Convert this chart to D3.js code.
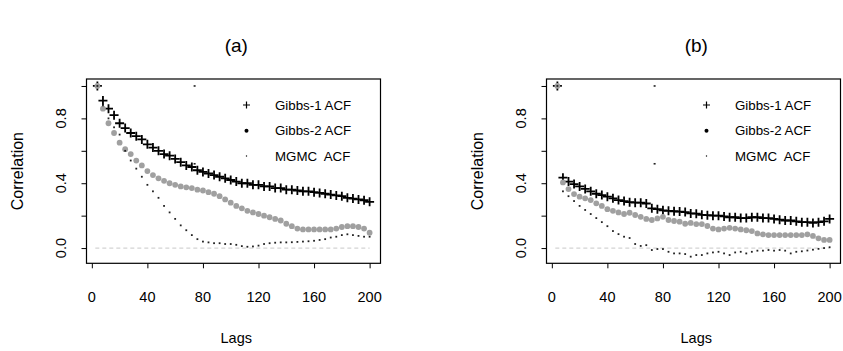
<!DOCTYPE html>
<html>
<head>
<meta charset="utf-8">
<script src="https://cdn.jsdelivr.net/npm/d3@7"></script>
<style>
html,body{margin:0;padding:0;background:#fff;}
svg{display:block;font-family:"Liberation Sans",Arial,sans-serif;}
</style>
</head>
<body>
<svg id="chart" width="843" height="351"></svg>
<script>
// ---- data ----
const lags = d3.range(4, 201, 4); // 4, 8, ..., 200
const xTicks = [0, 40, 80, 120, 160, 200];
const yTicks = [0, 0.2, 0.4, 0.6, 0.8, 1.0];
const yLabels = ["0.0", "", "0.4", "", "0.8", ""];
const panelTitles = ["(a)", "(b)"];
const legendLabels = ["Gibbs-1 ACF", "Gibbs-2 ACF", "MGMC  ACF"];

const gibbs1A = [1.0,0.91,0.86,0.82,0.77,0.74,0.71,0.69,0.67,0.64,0.62,0.60,0.58,0.57,0.55,0.53,0.51,0.50,0.48,0.47,
  0.46,0.45,0.44,0.43,0.42,0.41,0.40,0.40,0.39,0.39,0.38,0.38,0.37,0.37,0.36,0.36,0.355,0.35,0.35,0.345,
  0.34,0.335,0.33,0.325,0.32,0.31,0.305,0.30,0.295,0.285];
const gibbs2A = [1.0,0.86,0.77,0.71,0.65,0.61,0.58,0.54,0.51,0.475,0.45,0.43,0.415,0.40,0.39,0.38,0.375,0.37,0.36,0.355,
  0.345,0.335,0.32,0.30,0.28,0.26,0.245,0.23,0.22,0.21,0.20,0.19,0.18,0.17,0.15,0.135,0.12,0.115,0.115,0.115,
  0.115,0.115,0.115,0.12,0.13,0.135,0.135,0.13,0.12,0.095];
const mgmcA = [1.0,0.88,0.80,0.745,0.70,0.60,0.54,0.49,0.44,0.39,0.35,0.31,0.26,0.22,0.18,0.14,0.11,0.08,0.055,0.04,
  0.035,0.03,0.03,0.025,0.025,0.02,0.012,0.008,0.01,0.015,0.025,0.03,0.033,0.035,0.035,0.036,0.038,0.04,0.042,0.045,
  0.05,0.055,0.065,0.07,0.08,0.085,0.08,0.075,0.07,0.07];

const gibbs1B = [1.0,0.434,0.41,0.395,0.38,0.365,0.35,0.335,0.327,0.317,0.307,0.296,0.29,0.283,0.28,0.28,0.275,0.245,0.24,0.233,
  0.23,0.227,0.225,0.222,0.214,0.212,0.205,0.203,0.20,0.20,0.195,0.19,0.19,0.185,0.185,0.19,0.19,0.185,0.185,0.18,
  0.175,0.17,0.17,0.165,0.16,0.16,0.155,0.16,0.165,0.18];
const gibbs2B = [1.0,0.405,0.364,0.333,0.317,0.307,0.296,0.276,0.26,0.24,0.23,0.22,0.21,0.218,0.204,0.193,0.18,0.173,0.183,0.193,
  0.173,0.167,0.163,0.15,0.155,0.148,0.148,0.136,0.12,0.115,0.12,0.125,0.12,0.115,0.11,0.105,0.09,0.085,0.08,0.08,
  0.08,0.08,0.08,0.08,0.08,0.085,0.075,0.06,0.05,0.05];
const mgmcB = [1.0,0.35,0.32,0.29,0.26,0.235,0.21,0.185,0.16,0.135,0.105,0.086,0.07,0.062,0.025,0.013,0.018,-0.012,-0.006,-0.006,
  -0.023,-0.033,-0.033,-0.037,-0.053,-0.043,-0.043,-0.033,-0.027,-0.023,-0.033,-0.043,-0.027,-0.023,-0.033,-0.023,-0.016,-0.016,-0.012,-0.016,
  -0.012,-0.016,-0.033,-0.023,-0.02,-0.015,-0.01,-0.005,0.0,0.005];

const strayLags = [74, 74];
const strayVals = [1.0, 0.52];

const panels = [
  {g1: gibbs1A, g2: gibbs2A, m: mgmcA},
  {g1: gibbs1B, g2: gibbs2B, m: mgmcB}
];

// ---- layout ----
const svg = d3.select("#chart");
const boxTop = 79, boxBottom = 263.3, boxW = 294;
const panelLeft = [86.5, 546.5];
const y = d3.scaleLinear().domain([-0.094, 1.043]).range([boxBottom, boxTop]);
const grayCol = "#a0a0a0";

panels.forEach((p, i) => {
  const L = panelLeft[i];
  const x = d3.scaleLinear().domain([-3.84, 207.84]).range([L, L + boxW]);
  const g = svg.append("g");

  // zero reference line
  g.append("line")
    .attr("x1", x(2.5)).attr("x2", x(200)).attr("y1", y(0)).attr("y2", y(0))
    .attr("stroke", "#d4d4d4").attr("stroke-width", 1.2).attr("stroke-dasharray", "4,3");

  // axes
  const xAxis = d3.axisBottom(x).tickValues(xTicks).tickSize(5).tickFormat("");
  const gx = g.append("g").attr("transform", `translate(0,${boxBottom})`).call(xAxis);
  gx.select(".domain").remove();
  gx.selectAll("line").attr("stroke", "#000");
  g.selectAll(".xlab").data(xTicks).enter().append("text")
    .attr("x", d => x(d)).attr("y", 302).attr("text-anchor", "middle")
    .attr("font-size", 14.5).text(d => d);

  const yAxis = d3.axisLeft(y).tickValues(yTicks).tickSize(5).tickFormat("");
  const gy = g.append("g").attr("transform", `translate(${L},0)`).call(yAxis);
  gy.select(".domain").remove();
  gy.selectAll("line").attr("stroke", "#000");
  g.selectAll(".ylab").data(yTicks).enter().append("text")
    .attr("transform", d => `translate(${L - 26},${y(d)}) rotate(-90)`)
    .attr("text-anchor", "middle").attr("dy", "0.35em")
    .attr("font-size", 14.5).text((d, k) => yLabels[k]);

  // box
  g.append("rect").attr("x", L).attr("y", boxTop)
    .attr("width", boxW).attr("height", boxBottom - boxTop)
    .attr("fill", "none").attr("stroke", "#000").attr("stroke-width", 1.2);

  // titles
  g.append("text").attr("x", x(104)).attr("y", 52).attr("text-anchor", "middle")
    .attr("font-size", 19).text(panelTitles[i]);
  g.append("text").attr("x", x(104)).attr("y", 343).attr("text-anchor", "middle")
    .attr("font-size", 14.5).text("Lags");
  g.append("text").attr("transform", `translate(${L - 69},${(boxTop + boxBottom) / 2}) rotate(-90)`)
    .attr("text-anchor", "middle").attr("dy", "0.35em")
    .attr("font-size", 16).text("Correlation");

  // Gibbs-1 pluses
  const s = 4.5;
  g.selectAll(".plus").data(lags.map((l, k) => [l, p.g1[k]])).enter().append("path")
    .attr("d", d => `M${x(d[0]) - s},${y(d[1])}h${2 * s}M${x(d[0])},${y(d[1]) - s}v${2 * s}`)
    .attr("stroke", "#000").attr("stroke-width", 1.8).attr("fill", "none");

  // Gibbs-2 gray circles
  g.selectAll(".circ").data(lags.map((l, k) => [l, p.g2[k]])).enter().append("circle")
    .attr("cx", d => x(d[0])).attr("cy", d => y(d[1])).attr("r", 2.9)
    .attr("fill", grayCol);

  // MGMC small dots
  g.selectAll(".dot").data(lags.map((l, k) => [l, p.m[k]])).enter().append("rect")
    .attr("x", d => x(d[0]) - 0.9).attr("y", d => y(d[1]) - 0.9)
    .attr("width", 1.8).attr("height", 1.8).attr("fill", "#222");
  g.selectAll(".stray").data(strayLags.map((l, k) => [l, strayVals[k]])).enter().append("rect")
    .attr("x", d => x(d[0]) - 1).attr("y", d => y(d[1]) - 0.8)
    .attr("width", 2).attr("height", 1.6).attr("fill", "#222");

  // legend
  const lx = L + 160, tx = L + 188.5;
  const ly = [105, 130.7, 156];
  g.append("path")
    .attr("d", `M${lx - 3.5},${ly[0]}h7M${lx},${ly[0] - 3.5}v7`)
    .attr("stroke", "#000").attr("stroke-width", 1.2);
  g.append("circle").attr("cx", lx).attr("cy", ly[1]).attr("r", 2).attr("fill", "#000");
  g.append("rect").attr("x", lx - 0.6).attr("y", ly[2] - 0.6).attr("width", 1.2).attr("height", 1.2).attr("fill", "#000");
  legendLabels.forEach((t, k) => {
    g.append("text").attr("x", tx).attr("y", ly[k]).attr("dy", "0.35em")
      .attr("font-size", 13.3).style("white-space", "pre").text(t);
  });
});
</script>
</body>
</html>
